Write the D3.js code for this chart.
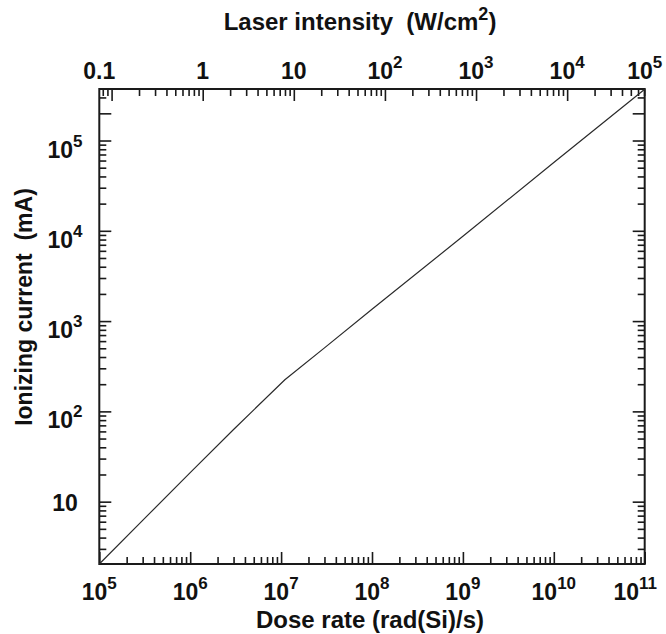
<!DOCTYPE html>
<html>
<head>
<meta charset="utf-8">
<script src="https://cdn.jsdelivr.net/npm/d3@7/dist/d3.min.js"></script>
<style>
  html, body { margin: 0; padding: 0; background: #fff; }
  svg { display: block; font-family: "Liberation Sans", Arial, sans-serif; font-weight: bold; }
  text { fill: #111; }
</style>
</head>
<body>
<svg id="chart" width="666" height="634"></svg>
<script>
// ---- data ----
const doseRate = [1e5, 3e5, 1e6, 3e6, 1.1e7, 3e7, 1e8, 1e9, 1e10, 1e11];
const ionCurrent = [2.04, 6.2, 21, 63, 224, 505, 1350, 8700, 5.7e4, 3.7e5];

const doseDomain = [1e5, 1e11];
const laserDomain = [0.0733, 7.1e4];
const currentDomain = [2.04, 3.72e5];

const doseTickLabels = [1e5, 1e6, 1e7, 1e8, 1e9, 1e10, 1e11];
const laserTickLabels = [0.1, 1, 10, 100, 1e3, 1e4, 1e5];
const currentTickLabels = [10, 100, 1e3, 1e4, 1e5];
const currentExtraLongTicks = [2e5];

const xTitle = "Dose rate (rad(Si)/s)";
const yTitle = "Ionizing current  (mA)";
const topTitle = "Laser intensity  (W/cm";

// ---- layout ----
const W = 666, H = 634;
const L = 99.3, R = 644.7, T = 89, B = 564;
const svg = d3.select("#chart");

const x = d3.scaleLog().domain(doseDomain).range([L, R]);
const xTop = d3.scaleLog().domain(laserDomain).range([L, R]);
const y = d3.scaleLog().domain(currentDomain).range([B, T]);

const isDecade = v => Math.abs(Math.log10(v) - Math.round(Math.log10(v))) < 1e-9;

function splitTicks(s, extra) {
  const all = s.ticks();
  const ex = extra || [];
  const major = all.filter(isDecade).concat(ex);
  const minor = all.filter(v => !isDecade(v) && !ex.includes(v));
  return { major, minor };
}

const MAJ = 12, MIN = 7;
function drawAxis(axisFn, s, transform, extra) {
  const t = splitTicks(s, extra);
  [[t.major, MAJ], [t.minor, MIN]].forEach(([vals, len]) => {
    const g = svg.append("g").attr("transform", transform)
      .call(axisFn(s).tickValues(vals).tickSize(-len).tickFormat(""));
    g.select(".domain").remove();
    g.selectAll("line").attr("stroke", "#1a1a1a").attr("stroke-width", 1.6);
  });
}
drawAxis(d3.axisBottom, x, `translate(0,${B})`);
drawAxis(d3.axisTop, xTop, `translate(0,${T})`);
drawAxis(d3.axisLeft, y, `translate(${L},0)`, currentExtraLongTicks);
drawAxis(d3.axisRight, y, `translate(${R},0)`, currentExtraLongTicks);

// frame
svg.append("rect").attr("x", L).attr("y", T).attr("width", R - L).attr("height", B - T)
  .attr("fill", "none").attr("stroke", "#1a1a1a").attr("stroke-width", 2);

// data line
svg.append("path")
  .datum(doseRate.map((d, i) => [d, ionCurrent[i]]))
  .attr("fill", "none").attr("stroke", "#2a2a2a").attr("stroke-width", 1.2)
  .attr("d", d3.line().x(d => x(d[0])).y(d => y(d[1])));

// ---- labels ----
const FS = 23, SUP = 17, RAISE = 11;
function addPowLabel(g, v, opts) {
  const e = Math.round(Math.log10(v));
  const t = g.append("text").attr("x", opts.x).attr("y", opts.y)
    .attr("text-anchor", opts.anchor || "middle").attr("font-size", FS);
  if (v < 1 || e <= 1) {
    t.text(String(v));
  } else {
    t.append("tspan").text("10");
    t.append("tspan").attr("font-size", SUP).attr("dy", -RAISE).text(e);
  }
  return t;
}

const gl = svg.append("g");
// bottom
doseTickLabels.forEach(v => {
  const t = gl.append("text").attr("x", x(v)).attr("y", 600)
    .attr("text-anchor", "middle").attr("font-size", FS);
  t.append("tspan").text("10");
  t.append("tspan").attr("font-size", SUP).attr("dy", -RAISE).text(Math.round(Math.log10(v)));
  const bb = t.node().getBBox();
  if (bb.x + bb.width > W - 9) t.attr("x", x(v) - (bb.x + bb.width - (W - 9)));
});
// top
laserTickLabels.forEach((v, i) => {
  const px = i === 0 ? xTop.range()[0] : (i === laserTickLabels.length - 1 ? xTop.range()[1] : xTop(v));
  addPowLabel(gl, v, { x: px, y: 79 });
});
// left
currentTickLabels.forEach(v => {
  const e = Math.round(Math.log10(v));
  addPowLabel(gl, v, { x: 65, y: y(v) + (e <= 1 ? 9 : 17) });
});

// titles
const tt = svg.append("text").attr("x", 360).attr("y", 30).attr("text-anchor", "middle")
  .attr("font-size", 24).style("white-space", "pre");
tt.append("tspan").text(topTitle);
tt.append("tspan").attr("font-size", 18).attr("dy", -10).text("2");
tt.append("tspan").attr("dy", 10).text(")");

svg.append("text").attr("x", 370).attr("y", 628).attr("text-anchor", "middle")
  .attr("font-size", 24).text(xTitle);

svg.append("text").attr("transform", `translate(32,307) rotate(-90)`)
  .attr("text-anchor", "middle").attr("font-size", 23).style("white-space", "pre")
  .text(yTitle);
</script>
</body>
</html>
